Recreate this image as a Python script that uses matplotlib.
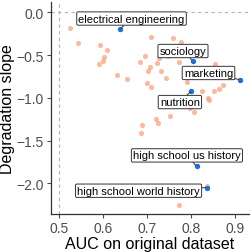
import matplotlib
matplotlib.use("Agg")
import matplotlib.pyplot as plt

plt.rcParams['font.family'] = ['Liberation Sans', 'DejaVu Sans']

# background subjects (AUC, degradation slope)
auc = [0.523, 0.542, 0.592, 0.608, 0.601, 0.599, 0.589, 0.630, 0.654,
       0.708, 0.759, 0.777, 0.694, 0.684, 0.723, 0.727, 0.747, 0.773,
       0.706, 0.701, 0.732, 0.742, 0.699, 0.709, 0.854, 0.790, 0.825,
       0.852, 0.862, 0.873, 0.838, 0.840, 0.797, 0.805, 0.752, 0.720,
       0.724, 0.687, 0.685, 0.836, 0.772, 0.748]
slope = [-0.187, -0.356, -0.379, -0.438, -0.520, -0.574, -0.609, -0.734, -0.781,
         -0.285, -0.305, -0.351, -0.508, -0.586, -0.597, -0.531, -0.515, -0.586,
         -0.644, -0.683, -0.683, -0.770, -0.828, -0.871, -0.605, -0.820, -0.918,
         -0.925, -0.898, -0.847, -1.000, -1.027, -1.124, -1.163, -1.210, -1.250,
         -1.296, -1.320, -1.417, -2.030, -2.256, -1.000]

# highlighted subjects
names = ["electrical engineering", "sociology", "marketing", "nutrition",
         "high school us history", "high school world history"]
hl_auc = [0.638, 0.803, 0.911, 0.800, 0.812, 0.836]
hl_slope = [-0.196, -0.567, -0.789, -0.920, -1.803, -2.050]
lab_x = [0.664, 0.781, 0.839, 0.774, 0.790, 0.680]
lab_y = [-0.073, -0.453, -0.710, -1.050, -1.674, -2.087]

fig = plt.figure(figsize=(2.53, 2.53), dpi=100)
ax = fig.add_axes([0.2, 0.15, 0.784, 0.838])

ax.axhline(0, color="#b3b3b3", linestyle=(0, (3, 3)), linewidth=0.8, zorder=0)
ax.axvline(0.5, color="#b3b3b3", linestyle=(0, (3, 3)), linewidth=0.8, zorder=0)

ax.scatter(auc, slope, s=14, color="#f4a582", alpha=0.75, linewidths=0, zorder=2)
ax.scatter(hl_auc, hl_slope, s=15, color="#1f6fd6", linewidths=0, zorder=3)

for n, px, py, tx, ty in zip(names, hl_auc, hl_slope, lab_x, lab_y):
    ax.annotate(n, xy=(px, py), xytext=(tx, ty), ha="center", va="center",
                fontsize=8, color="black", zorder=4,
                bbox=dict(boxstyle="round,pad=0.15,rounding_size=0.12", fc="white",
                          ec="#333333", lw=0.7),
                arrowprops=dict(arrowstyle="-", color="#333333", lw=0.7,
                                shrinkA=0, shrinkB=1))

ax.set_xlim(0.48, 0.931)
ax.set_ylim(-2.36, 0.12)
ax.set_xticks([0.5, 0.6, 0.7, 0.8, 0.9])
ax.set_yticks([0.0, -0.5, -1.0, -1.5, -2.0])
ax.set_xticklabels(["0.5", "0.6", "0.7", "0.8", "0.9"])
ax.set_yticklabels(["0.0", "\u22120.5", "\u22121.0", "\u22121.5", "\u22122.0"])
ax.tick_params(labelsize=10, colors="#4d4d4d", length=3, width=0.8, pad=2)
ax.set_xlabel("AUC on original dataset", fontsize=11.5, labelpad=1)
ax.set_ylabel("Degradation slope", fontsize=11.5, labelpad=1)

for side in ["top", "right"]:
    ax.spines[side].set_visible(False)
for side in ["left", "bottom"]:
    ax.spines[side].set_color("#333333")
    ax.spines[side].set_linewidth(0.9)

fig.savefig("out.png", dpi=100)
